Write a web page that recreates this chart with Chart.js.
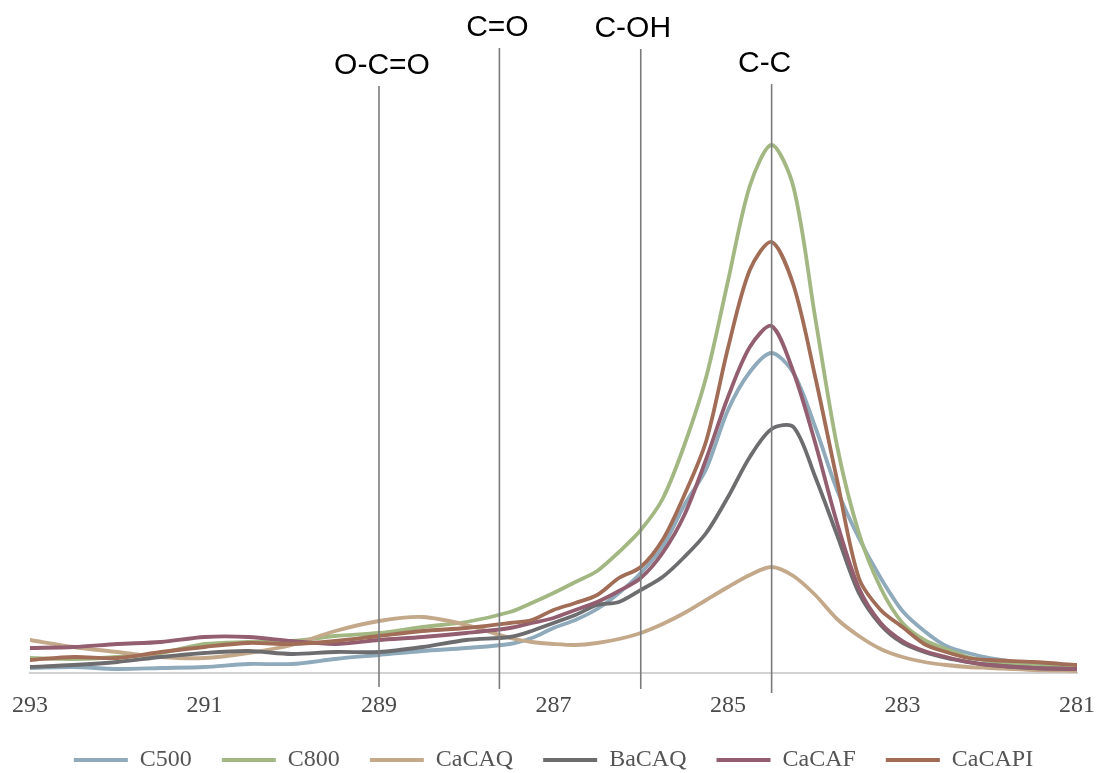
<!DOCTYPE html>
<html>
<head>
  <meta charset="utf-8">
  <title>C 1s spectra</title>
  <script src="https://cdn.jsdelivr.net/npm/chart.js"></script>
  <style>
    html, body { margin: 0; padding: 0; background: #fff; }
    canvas { display: block; }
  </style>
</head>
<body>
  <canvas id="xps" width="1099" height="773"></canvas>

  <script>
    // binding energy (eV), high to low
    const energies = [293, 292.5, 292, 291.5, 291, 290.5, 290, 289.5, 289, 288.5, 288, 287.5,
      287.25, 287, 286.75, 286.5, 286.25, 286, 285.75, 285.5, 285.25, 285, 284.75, 284.5,
      284.25, 284, 283.75, 283.5, 283.25, 283, 282.75, 282.5, 282.25, 282, 281.5, 281];

    // intensities (a.u.)
    const c500   = [5, 6, 4, 5, 6, 9, 9, 14, 18, 22, 25, 29, 35, 45, 53, 64, 80, 100, 126, 168, 204, 263, 301, 320, 300, 246, 183, 135, 95, 62, 42, 27, 20, 15, 9, 6];
    const c800   = [15, 14, 16, 20, 29, 31, 32, 37, 40, 46, 51, 61, 70, 80, 91, 102, 121, 143, 174, 228, 296, 392, 487, 528, 486, 355, 227, 140, 85, 50, 33, 24, 16, 12, 7, 5];
    const cacaq  = [33, 26, 21, 16, 15, 20, 28, 42, 52, 56, 48, 35, 31, 29, 28, 30, 34, 40, 49, 60, 73, 86, 98, 106, 97, 78, 54, 37, 24, 16, 11, 8, 6, 5, 3, 2];
    const bacaq  = [6, 8, 11, 16, 20, 22, 19, 21, 21, 26, 33, 36, 42, 50, 58, 68, 71, 83, 96, 116, 140, 176, 216, 244, 246, 196, 138, 80, 48, 30, 21, 15, 11, 8, 5, 4];
    const cacaf  = [25, 26, 29, 31, 36, 36, 32, 29, 33, 36, 40, 45, 50, 55, 63, 71, 82, 95, 120, 158, 214, 276, 326, 347, 301, 230, 150, 85, 50, 32, 22, 16, 11, 8, 5, 4];
    const cacapi = [13, 16, 15, 21, 26, 30, 29, 32, 37, 42, 45, 50, 53, 63, 70, 78, 95, 106, 133, 178, 232, 325, 403, 431, 388, 296, 193, 95, 63, 46, 29, 21, 15, 13, 11, 8];

    const seriesNames = ['C500', 'C800', 'CaCAQ', 'BaCAQ', 'CaCAF', 'CaCAPI'];
    const seriesValues = [c500, c800, cacaq, bacaq, cacaf, cacapi];
    const seriesColors = ['#8eaabb', '#a2b781', '#c3a98a', '#6d6d70', '#925e70', '#a26d57'];

    // component positions
    const peakEnergies = [289, 287.62, 286, 284.5];
    const peakLabels = ['O-C=O', 'C=O', 'C-OH', 'C-C'];

    const peakMarkers = {
      id: 'peakMarkers',
      afterDatasetsDraw(chart, args, opts) {
        const { ctx, chartArea, scales: { x, y } } = chart;
        ctx.save();
        ctx.strokeStyle = '#7b7b7e';
        ctx.lineWidth = 1.6;
        ctx.fillStyle = '#000';
        ctx.font = '30px "Liberation Sans", Arial, sans-serif';
        ctx.textAlign = 'center';
        ctx.textBaseline = 'alphabetic';
        peakEnergies.forEach((e, i) => {
          const px = x.getPixelForValue(e);
          const top = y.getPixelForValue(opts.tops[i]);
          ctx.beginPath();
          ctx.moveTo(px, top);
          ctx.lineTo(px, chartArea.bottom + opts.below[i]);
          ctx.stroke();
          ctx.fillText(peakLabels[i], px + opts.dx[i], top - 12);
        });
        ctx.restore();
      }
    };

    const serif = '"Liberation Serif", "Times New Roman", serif';

    new Chart(document.getElementById('xps'), {
      type: 'line',
      data: {
        datasets: seriesNames.map((name, i) => ({
          label: name,
          data: energies.map((e, j) => ({ x: e, y: seriesValues[i][j] })),
          borderColor: seriesColors[i],
          backgroundColor: seriesColors[i],
          borderWidth: 3.8,
          borderCapStyle: 'round',
          borderJoinStyle: 'round',
          pointRadius: 0,
          tension: 0.3,
          fill: false,
          order: seriesNames.length - i
        }))
      },
      options: {
        responsive: false,
        animation: false,
        devicePixelRatio: 1,
        layout: { padding: { left: 30, right: 22, top: 40, bottom: -9 } },
        scales: {
          x: {
            type: 'linear',
            reverse: true,
            min: 281,
            max: 293,
            ticks: { stepSize: 2, color: '#4a4a4a', padding: 3, font: { family: serif, size: 24, lineHeight: 0.75 } },
            // ticks are not drawn, tickLength only spaces the labels
            grid: { display: false, drawTicks: true, tickLength: 21 },
            border: { display: true, color: '#d2d2d2', width: 2 }
          },
          y: { display: false, min: 0, max: 633 }
        },
        plugins: {
          legend: {
            position: 'bottom',
            labels: {
              usePointStyle: true,
              pointStyle: 'line',
              pointStyleWidth: 54,
              padding: 30,
              color: '#555',
              font: { family: serif, size: 24 },
              sort: (a, b) => a.datasetIndex - b.datasetIndex
            }
          },
          tooltip: { enabled: false },
          peakMarkers: {
            tops: [587, 625, 624, 589],
            below: [14, 16, 16, 20],
            dx: [3, -2, -8, -7]
          }
        }
      },
      plugins: [peakMarkers]
    });
  </script>
</body>
</html>
